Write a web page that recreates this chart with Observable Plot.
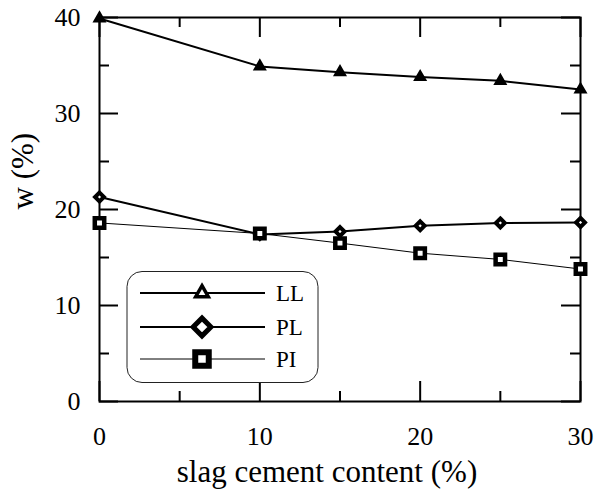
<!DOCTYPE html>
<html><head><meta charset="utf-8">
<script src="https://cdn.jsdelivr.net/npm/d3@7"></script>
<script src="https://cdn.jsdelivr.net/npm/@observablehq/plot@0.6"></script>
<style>body{margin:0;background:#fff;overflow:hidden}</style>
</head><body><div id="chart"></div>
<script>
const slag = [0, 10, 15, 20, 25, 30];
const LL = [39.9, 34.9, 34.3, 33.8, 33.4, 32.5];
const PL = [21.3, 17.4, 17.7, 18.3, 18.6, 18.65];
const PI = [18.6, 17.5, 16.5, 15.45, 14.8, 13.8];
const seriesNames = ["LL", "PL", "PI"];
const xMajor = [0, 10, 20, 30];
const xMinor = [5, 15, 25];
const yMajor = [0, 10, 20, 30, 40];
const yMinor = [5, 15, 25, 35];
const xLabel = "slag cement content (%)";
const yLabel = "w (%)";

const W = 603, H = 490, mL = 99, mR = 23, mT = 17, mB = 89;
const fw = W - mL - mR, fh = H - mT - mB;
const serif = "'Liberation Serif', 'Times New Roman', serif";

const rows = k => slag.map((x, i) => ({x, y: [LL, PL, PI][k][i]}));
const dLL = rows(0), dPL = rows(1), dPI = rows(2);

const tickMarks = [];
for (const [vals, len] of [[xMajor, 20], [xMinor, 10]]) {
  tickMarks.push(Plot.tickX(vals, {x: d => d, insetBottom: fh - len, stroke: "black", strokeWidth: 2}));
  tickMarks.push(Plot.tickX(vals, {x: d => d, insetTop: fh - len, stroke: "black", strokeWidth: 2}));
}
for (const [vals, len] of [[yMajor, 19], [yMinor, 10]]) {
  tickMarks.push(Plot.tickY(vals, {y: d => d, insetRight: fw - len, stroke: "black", strokeWidth: 2}));
  tickMarks.push(Plot.tickY(vals, {y: d => d, insetLeft: fw - len, stroke: "black", strokeWidth: 2}));
}

const chart = Plot.plot({
  width: W, height: H,
  marginLeft: mL, marginRight: mR, marginTop: mT, marginBottom: mB,
  style: {fontFamily: serif, fontSize: "26px", background: "white", color: "black", overflow: "visible"},
  x: {domain: [0, 30]},
  y: {domain: [0, 40]},
  marks: [
    ...tickMarks,
    Plot.axisX({ticks: xMajor, tickSize: 0, tickPadding: 25, fontSize: 26, label: null}),
    Plot.axisY({ticks: yMajor, tickSize: 0, tickPadding: 19, fontSize: 26, label: null}),
    Plot.frame({stroke: "black", strokeWidth: 2}),
    Plot.line(dPI, {x: "x", y: "y", stroke: "black", strokeWidth: 1}),
    Plot.line(dPL, {x: "x", y: "y", stroke: "black", strokeWidth: 2}),
    Plot.line(dLL, {x: "x", y: "y", stroke: "black", strokeWidth: 2}),
    Plot.dot(dLL, {x: "x", y: "y", symbol: "triangle2", r: 3.4, fill: "white", stroke: "black", strokeWidth: 4}),
    Plot.dot(dPL, {x: "x", y: "y", symbol: "diamond2", r: 4.0, fill: "white", stroke: "black", strokeWidth: 4}),
    Plot.dot(dPI, {x: "x", y: "y", symbol: "square2", r: 6, fill: "white", stroke: "black", strokeWidth: 4.5}),
    Plot.text([xLabel], {frameAnchor: "bottom", dy: 80, dx: -13, fontSize: 31, text: d => d, fill: "black"}),
    Plot.text([yLabel], {frameAnchor: "left", dx: -76, rotate: -90, fontSize: 31, text: d => d, fill: "black"})
  ]
});
document.getElementById("chart").appendChild(chart);

// legend inside the plot
const svg = d3.select(chart);
const lg = svg.append("g");
lg.append("rect").attr("x", 127).attr("y", 271.5).attr("width", 191).attr("height", 111)
  .attr("rx", 15).attr("fill", "white").attr("stroke", "#222").attr("stroke-width", 1);
const legSym = [d3.symbolTriangle2, d3.symbolDiamond2, d3.symbolSquare2];
const legR = [6, 8, 8.6];
const legW = [2, 2, 1];
const legSW = [3.5, 5, 6];
const rowsY = [293, 327, 359];
seriesNames.forEach((name, i) => {
  const y = rowsY[i];
  lg.append("line").attr("x1", 140).attr("x2", 265).attr("y1", y).attr("y2", y)
    .attr("stroke", "black").attr("stroke-width", legW[i]);
  lg.append("path").attr("transform", `translate(202,${y})`)
    .attr("d", d3.symbol(legSym[i], Math.PI * legR[i] * legR[i])())
    .attr("fill", "white").attr("stroke", "black").attr("stroke-width", legSW[i]);
  lg.append("text").attr("x", 276).attr("y", y).attr("dy", "0.34em")
    .attr("text-anchor", "start").attr("font-size", 23).attr("font-family", serif).text(name);
});
</script>
</body></html>
